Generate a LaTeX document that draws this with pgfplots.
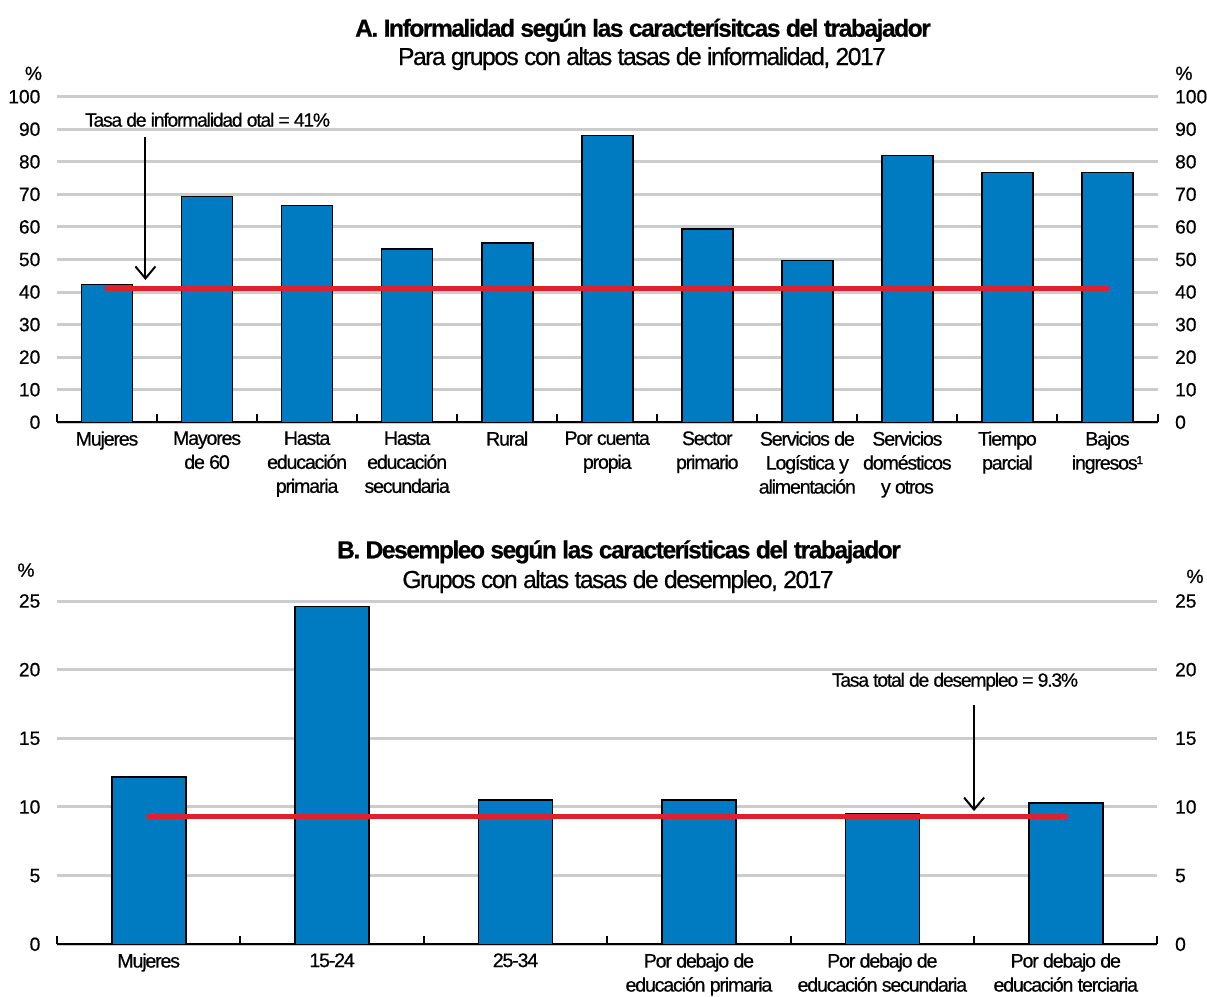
\documentclass[border=0pt]{standalone}
\usepackage{fontspec}
\setmainfont{Liberation Sans}[LetterSpace=-6, FakeBold=0.6]
\newfontfamily\numfont{Liberation Sans}[FakeBold=0.6]
\usepackage{pgfplots}
\pgfplotsset{compat=1.18}
\usetikzlibrary{arrows.meta}
\definecolor{barblue}{RGB}{0,122,192}
\definecolor{redline}{RGB}{221,33,47}
\definecolor{gridgray}{RGB}{204,204,204}
\newcommand{\lab}{\fontsize{9.8}{12}\selectfont}
\newcommand{\nlab}{\numfont\fontsize{9.6}{11}\selectfont}
\newcommand{\ttl}{\fontsize{12.3}{14}\selectfont}

\pgfplotsset{
  base/.style={
    scale only axis,
    axis x line*=bottom, axis y line*=left,
    x axis line style={line width=1pt,-},
    y axis line style={draw=none},
    ytick style={draw=none},
    ymajorgrids, grid style={gridgray, line width=1.5pt},
    tick align=inside,
    major x tick style={draw=none},
    minor x tick style={black, line width=1pt},
    minor tick length=4pt,
    xticklabel style={font=\lab, align=center, anchor=north, yshift=-1pt},
    yticklabel style={font=\nlab, xshift=-4.8pt},
    /pgf/number format/assume math mode=true,
    clip=false,
  },
  rightax/.style={
    scale only axis,
    axis y line*=right, axis x line=none,
    y axis line style={draw=none},
    ytick style={draw=none},
    yticklabel style={font=\nlab, xshift=5.3pt},
    /pgf/number format/assume math mode=true,
  },
}

\pgfplotstableread{
x y
0.5 42.3
1.5 69.4
2.5 66.6
3.5 53.2
4.5 55.0
5.5 88.1
6.5 59.3
7.5 49.7
8.5 82.0
9.5 76.7
10.5 76.7
}\informal

\pgfplotstableread{
x y
0.5 12.2
1.5 24.6
2.5 10.5
3.5 10.5
4.5 9.5
5.5 10.3
}\desempleo

\begin{document}
\begin{tikzpicture}[x=0.5pt,y=-0.5pt]
\useasboundingbox (0,0) rectangle (1207,997);
\coordinate (TA) at (57,422.3);
\coordinate (BA) at (57,944.3);

% ---------- Panel A ----------
\begin{axis}[base, at={(TA)}, anchor=south west,
  width=550.25pt, height=162.8pt,
  xmin=0, xmax=11, ymin=0, ymax=100,
  ytick={0,10,...,100},
  xtick={0.5,1.5,...,10.5},
  minor xtick={0,1,...,11},
  xticklabels={Mujeres,{Mayores\\de 60},{Hasta\\educación\\primaria},{Hasta\\educación\\secundaria},Rural,{Por cuenta\\propia},{Sector\\primario},{Servicios de\\Logística y\\alimentación},{Servicios\\domésticos\\y otros},{Tiempo\\parcial},{Bajos\\ingresos¹}},
]
\addplot[ybar, bar width=25.5pt, fill=barblue, draw=black, line width=0.8pt] table[x=x,y=y]{\informal};
\addplot[redline, line width=2.6pt, line cap=round] coordinates {(0.5,41) (10.5,41)};
\draw[line width=1pt, -{Straight Barb[length=6pt,width=10pt,line width=1pt]}] (axis cs:0.884,87.6) -- (axis cs:0.884,43.7);
\node[anchor=base, font=\fontsize{9.6}{11}\selectfont, inner sep=0pt] at (axis cs:1.505,90.8) {Tasa de informalidad otal = 41\%};
\end{axis}
\begin{axis}[rightax, at={(TA)}, anchor=south west,
  width=550.25pt, height=162.8pt,
  xmin=0, xmax=11, ymin=0, ymax=100,
  ytick={0,10,...,100}]
\addplot[draw=none] coordinates {(0,0)};
\end{axis}

% ---------- Panel B ----------
\begin{axis}[base, at={(BA)}, anchor=south west,
  width=550.25pt, height=171.65pt,
  xmin=0, xmax=6, ymin=0, ymax=25,
  ytick={0,5,...,25},
  xtick={0.5,1.5,...,5.5},
  minor xtick={0,1,...,6},
  xticklabels={Mujeres,15-24,25-34,{Por debajo de\\educación primaria},{Por debajo de\\educación secundaria},{Por debajo de\\educación terciaria}},
]
\addplot[ybar, bar width=37pt, fill=barblue, draw=black, line width=0.8pt] table[x=x,y=y]{\desempleo};
\addplot[redline, line width=2.6pt, line cap=round] coordinates {(0.5,9.3) (5.5,9.3)};
\draw[line width=1pt, -{Straight Barb[length=6pt,width=10pt,line width=1pt]}] (axis cs:5.0,17.43) -- (axis cs:5.0,9.7);
\node[anchor=base, font=\fontsize{9.6}{11}\selectfont, inner sep=0pt] at (axis cs:4.896,18.76) {Tasa total de desempleo = 9.3\%};
\end{axis}
\begin{axis}[rightax, at={(BA)}, anchor=south west,
  width=550.25pt, height=171.65pt,
  xmin=0, xmax=6, ymin=0, ymax=25,
  ytick={0,5,...,25}]
\addplot[draw=none] coordinates {(0,0)};
\end{axis}

% ---------- Titles and units ----------
\node[anchor=base, font=\ttl\bfseries, inner sep=0pt] at (643,36.7) {A. Informalidad según las caracterísitcas del trabajador};
\node[anchor=base, font=\ttl, inner sep=0pt] at (642,65) {Para grupos con altas tasas de informalidad, 2017};
\node[anchor=base, font=\ttl\bfseries, inner sep=0pt] at (619,558.3) {B. Desempleo según las características del trabajador};
\node[anchor=base, font=\ttl, inner sep=0pt] at (618,588) {Grupos con altas tasas de desempleo, 2017};

\node[anchor=base, font=\nlab, inner sep=0pt] at (33.5,80) {\%};
\node[anchor=base, font=\nlab, inner sep=0pt] at (1184,80) {\%};
\node[anchor=base, font=\nlab, inner sep=0pt] at (26,576.7) {\%};
\node[anchor=base, font=\nlab, inner sep=0pt] at (1195,583) {\%};
\end{tikzpicture}
\end{document}
